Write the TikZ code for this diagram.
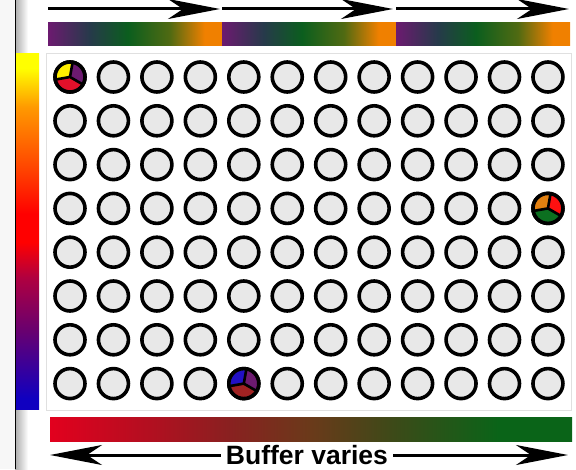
\documentclass[tikz,border=0pt]{standalone}
\usepackage{fontspec}
\usepackage{tikz}
\newfontfamily\labelfont{Liberation Sans}
\definecolor{Wgray}{RGB}{232,232,232}
\definecolor{Pyel}{RGB}{255,238,0}
\definecolor{Pred}{RGB}{226,16,42}
\definecolor{Ppur}{RGB}{108,26,112}
\definecolor{Pblu}{RGB}{34,16,196}
\definecolor{Pdred}{RGB}{160,34,34}
\definecolor{Pora}{RGB}{226,128,16}
\definecolor{Pbred}{RGB}{255,16,16}
\definecolor{Pgrn}{RGB}{12,112,32}
\usetikzlibrary{arrows.meta}

\pgfdeclarehorizontalshading{runshade}{100bp}{color(0bp)=(Ppur); color(25bp)=(Ppur);
  color(37bp)=(rgb,255:red,38;green,58;blue,74); color(48bp)=(rgb,255:red,11;green,94;blue,30);
  color(60bp)=(rgb,255:red,80;green,106;blue,18); color(70bp)=(rgb,255:red,240;green,128;blue,0);
  color(75bp)=(rgb,255:red,240;green,128;blue,0); color(100bp)=(rgb,255:red,240;green,128;blue,0)}
\pgfdeclareverticalshading{heatshade}{100bp}{color(0bp)=(rgb,255:red,16;green,0;blue,192);
  color(26.5bp)=(rgb,255:red,16;green,0;blue,192); color(36bp)=(rgb,255:red,104;green,0;blue,112);
  color(43.5bp)=(rgb,255:red,176;green,0;blue,64); color(48.5bp)=(rgb,255:red,255;green,0;blue,0);
  color(52.5bp)=(rgb,255:red,255;green,0;blue,0); color(58.5bp)=(rgb,255:red,255;green,64;blue,0);
  color(67.5bp)=(rgb,255:red,255;green,153;blue,0); color(73bp)=(rgb,255:red,255;green,255;blue,0);
  color(100bp)=(rgb,255:red,255;green,255;blue,0)}
\pgfdeclarehorizontalshading{buffshade}{100bp}{color(0bp)=(rgb,255:red,226;green,0;blue,30);
  color(25bp)=(rgb,255:red,226;green,0;blue,30); color(35bp)=(rgb,255:red,176;green,16;blue,32);
  color(42bp)=(rgb,255:red,138;green,32;blue,32); color(50bp)=(rgb,255:red,106;green,58;blue,26);
  color(58bp)=(rgb,255:red,60;green,74;blue,24); color(68bp)=(rgb,255:red,10;green,100;blue,24);
  color(100bp)=(rgb,255:red,10;green,100;blue,24)}

\tikzset{
  well/.style={circle, draw=black, line width=3.6pt, fill=Wgray, minimum size=30pt, inner sep=0pt},
  bigarrow/.style={line width=3pt, -{Stealth[length=52pt, width=20pt, inset=15pt]}}
}
\newcommand{\wellpie}[4]{%
  \fill[#2] (#1.center) -- ++(80:13.5) arc[start angle=80, end angle=190, radius=13.5] -- cycle;
  \fill[#3] (#1.center) -- ++(190:13.5) arc[start angle=190, end angle=330, radius=13.5] -- cycle;
  \fill[#4] (#1.center) -- ++(330:13.5) arc[start angle=330, end angle=440, radius=13.5] -- cycle;
  \draw[line width=2.6pt] (#1.center) -- ++(80:14) (#1.center) -- ++(190:14) (#1.center) -- ++(330:14);
  \draw[line width=3.6pt] (#1.center) circle[radius=15];
}

\begin{document}
\begin{tikzpicture}[x=1pt, y=1pt]
    \useasboundingbox (0,0) rectangle (576,469);
    \fill[white] (0,0) rectangle (576,469);
    \fill[gray!6] (0,0) rectangle (15,469);
    \shade[left color=gray!65, right color=white] (15,0) rectangle (28,469);
    \draw[line width=1pt] (15,0) -- (15,469);
    \shade[shading=heatshade] (16,60) rectangle (39,415);
    \foreach \s in {0,1,2}
        \shade[shading=runshade] ({48+174*\s},423) rectangle ({222+174*\s},446);
    \draw[draw=black!12, fill=white] (46,59) rectangle (571,416);
    \foreach \c in {0,...,11}
        \foreach \r in {0,...,7}
            \node[well] (w-\c-\r) at ({70+43.45*\c},{392-43.8*\r}) {};
    \wellpie{w-0-0}{Pyel}{Pred}{Ppur}
    \wellpie{w-4-7}{Pblu}{Pdred}{Ppur}
    \wellpie{w-11-3}{Pora}{Pgrn}{Pbred}
    \shade[shading=buffshade] (50,28) rectangle (572,52);
    \coordinate (t0) at (48,460);
    \coordinate (t1) at (220,460);
    \coordinate (t2) at (222,460);
    \coordinate (t3) at (393,460);
    \coordinate (t4) at (396,460);
    \coordinate (t5) at (569,460);
    \draw[bigarrow] (t0) -- (t1);
    \draw[bigarrow] (t2) -- (t3);
    \draw[bigarrow] (t4) -- (t5);
    \node[font=\labelfont\bfseries\fontsize{26.5}{30}\selectfont, inner sep=5pt] (buf) at (307,14) {Buffer varies};
    \coordinate (bl) at (50,14);
    \coordinate (br) at (568,14);
    \draw[bigarrow] (buf.west) -- (bl);
    \draw[bigarrow] (buf.east) -- (br);
\end{tikzpicture}
\end{document}
